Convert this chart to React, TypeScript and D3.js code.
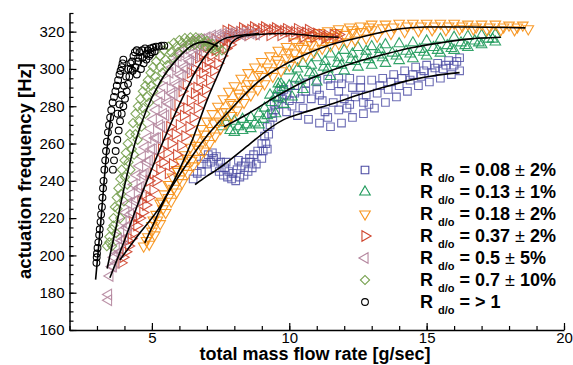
import { useEffect, useRef } from 'react';
import * as d3 from 'd3';

type Pt = [number, number];

// R d/o > 1 (circles)
const circlePts: Pt[] = [
  [2.98, 196], [2.99, 199], [3.0, 201], [3.02, 204], [3.05, 207], [3.08, 211], [3.1, 214], [3.13, 218],
  [3.15, 222], [3.18, 226], [3.2, 231], [3.22, 236], [3.24, 240], [3.27, 246], [3.3, 251], [3.33, 256],
  [3.36, 261], [3.4, 266], [3.44, 270], [3.48, 274], [3.52, 278], [3.57, 282], [3.62, 285], [3.67, 288],
  [3.72, 291], [3.77, 294], [3.82, 297], [3.86, 299], [3.9, 301], [3.93, 303], [3.96, 305],
  [3.58, 246], [3.62, 251], [3.68, 256], [3.74, 262], [3.79, 267], [3.84, 272], [3.9, 276], [3.96, 280],
  [4.02, 284], [4.08, 288], [4.13, 292], [4.18, 296], [4.23, 300], [4.28, 304], [4.33, 307], [4.38, 309],
  [3.75, 276], [3.82, 281], [3.9, 286], [3.98, 291], [4.06, 296], [4.14, 300], [4.22, 303], [4.3, 299],
  [4.4, 301], [4.5, 304], [4.45, 297], [4.6, 300], [4.7, 303], [4.8, 305], [4.9, 307], [5.0, 309],
  [4.45, 310], [4.55, 309], [4.65, 310], [4.75, 311], [4.85, 310], [4.95, 311], [5.05, 311.5], [5.15, 312],
  [5.25, 312], [5.35, 312.5], [5.45, 312.5], [4.5, 306], [4.65, 306], [4.8, 308], [4.95, 308], [5.1, 309.5]
];
const circleFit: Pt[] = [[2.95, 187], [3.05, 203], [3.15, 220], [3.25, 238], [3.35, 255], [3.45, 268], [3.52, 276]];

// R d/o = 0.7 (diamonds)
const diamondPts: Pt[] = [
  [3.36, 205], [3.45, 210], [3.54, 214], [3.6, 220], [3.65, 226], [3.72, 231], [3.78, 236], [3.85, 241],
  [3.9, 246], [4.0, 251], [4.05, 255], [4.12, 260], [4.2, 265], [4.31, 271], [4.4, 276], [4.49, 280],
  [4.58, 284], [4.67, 288], [4.76, 291], [4.85, 294], [4.95, 298], [5.04, 301], [5.15, 304], [5.3, 307],
  [5.45, 310], [5.6, 312], [5.8, 314], [6.0, 315.5], [6.2, 316.5], [6.4, 317], [6.6, 317], [6.8, 316.5],
  [7.0, 315], [7.2, 313.5], [7.4, 312], [7.55, 310],
  [3.55, 205], [3.7, 212], [3.85, 220], [3.98, 229], [4.1, 238], [4.22, 246], [4.35, 254], [4.48, 262],
  [4.62, 269], [4.76, 276], [4.9, 282], [5.05, 288], [5.2, 293], [5.38, 298], [5.56, 302], [5.75, 306],
  [5.95, 309], [6.15, 311], [6.35, 312.5], [6.55, 313], [6.75, 313], [6.95, 312], [7.15, 311], [7.35, 309.5],
  [3.45, 207], [3.6, 216], [3.75, 225], [3.88, 233], [4.02, 242], [4.15, 250], [4.27, 257], [4.4, 265],
  [4.54, 272], [4.68, 279], [4.82, 285], [4.97, 291], [5.12, 296], [5.3, 301], [5.5, 305], [5.7, 309],
  [5.9, 312], [6.1, 314], [6.3, 315], [6.5, 315.5], [6.7, 315.5], [6.9, 314.5], [7.1, 313], [7.3, 311.5]
];
const diamondFit: Pt[] = [[3.37, 193], [3.65, 212], [4.0, 237], [4.38, 260], [4.8, 278], [5.3, 293], [5.9, 305], [6.5, 313], [6.9, 314.5], [7.4, 312]];

// R d/o = 0.5 (left triangles)
const pinkPts: Pt[] = [
  [3.42, 176], [3.42, 179],
  [3.47, 189], [3.55, 194], [3.62, 199], [3.7, 204], [3.78, 209], [3.86, 213], [3.95, 218], [4.05, 223],
  [4.15, 228], [4.25, 233], [4.35, 238], [4.45, 243], [4.55, 248], [4.65, 253], [4.75, 258], [4.85, 263],
  [4.95, 268], [5.05, 273], [5.15, 278], [5.25, 282], [5.35, 286], [5.45, 290], [5.55, 294], [5.65, 298],
  [5.75, 301], [5.85, 304], [5.95, 307], [6.05, 309], [6.15, 311], [6.3, 313], [6.45, 314.5], [6.6, 316],
  [3.7, 196], [3.85, 202], [4.0, 209], [4.15, 216], [4.3, 223], [4.45, 230], [4.6, 237], [4.75, 244],
  [4.9, 251], [5.05, 257], [5.2, 263], [5.35, 269], [5.5, 275], [5.65, 281], [5.8, 286], [5.95, 291],
  [6.1, 296], [6.25, 300], [6.4, 304], [6.55, 307], [6.7, 310], [6.85, 312],
  [3.6, 194], [3.76, 201], [3.92, 208], [4.08, 215], [4.22, 222], [4.38, 229], [4.52, 236], [4.68, 243],
  [4.82, 250], [4.98, 257], [5.12, 263], [5.28, 270], [5.42, 276], [5.58, 282], [5.72, 287], [5.88, 292],
  [6.02, 297], [6.18, 301], [6.34, 305], [6.5, 308.5], [6.66, 312],
  [6.8, 316], [7.0, 317], [7.2, 318], [7.4, 318.5], [7.6, 319], [7.8, 319], [8.0, 319.5], [8.2, 319],
  [8.4, 319.5], [8.6, 319], [8.8, 318.5], [7.1, 315], [7.5, 317], [7.9, 317.5], [8.3, 318]
];
const pinkFit: Pt[] = [[3.47, 188], [4.0, 208], [4.5, 228], [4.93, 244], [5.55, 266], [6.13, 285], [6.64, 300], [7.0, 308], [7.3, 313], [7.6, 316], [8.0, 317.5], [8.5, 318.5], [8.9, 319]];

// R d/o = 0.37 (right triangles)
const redPts: Pt[] = [
  [3.88, 196], [3.95, 199], [4.05, 202], [4.15, 205], [4.25, 209], [4.35, 212], [4.45, 216], [4.55, 220],
  [4.67, 223], [4.78, 227], [4.9, 231], [5.04, 235], [5.15, 240], [5.29, 246], [5.4, 250], [5.55, 255],
  [5.7, 260], [5.85, 265], [6.0, 270], [6.15, 275], [6.27, 279], [6.4, 283], [6.55, 287], [6.64, 290],
  [6.75, 294], [6.85, 298], [6.95, 301], [7.05, 304], [7.15, 307], [7.3, 310], [7.45, 313], [7.6, 315], [7.75, 317],
  [5.6, 244], [5.75, 249], [5.9, 254], [6.05, 259], [6.2, 264], [6.35, 269], [6.5, 274], [6.65, 279],
  [6.8, 284], [6.95, 289], [7.1, 294], [7.25, 299], [7.4, 303], [7.55, 307], [7.7, 311], [7.85, 313], [7.95, 316],
  [4.3, 218], [4.6, 229], [4.9, 240], [5.2, 252], [5.5, 264], [5.8, 276], [6.1, 288], [6.4, 298], [6.7, 306],
  [7.0, 312], [7.3, 316], [7.7, 320.5], [7.9, 321],
  [4.1, 208], [4.45, 221], [4.75, 233], [5.05, 244], [5.35, 257], [5.65, 269], [5.95, 281], [6.25, 292],
  [6.55, 300], [6.85, 308], [7.15, 313],
  [7.8, 318], [8.0, 319], [8.2, 320], [8.4, 320.5], [8.6, 321], [8.8, 321], [9.0, 321.5], [9.2, 321],
  [9.4, 321], [9.6, 320.5], [9.8, 320.5], [10.0, 320], [10.2, 320], [10.4, 319.5], [10.6, 319.5], [10.8, 319],
  [11.0, 319], [11.2, 318.5], [11.4, 318], [11.6, 318.5], [11.8, 318.5], [8.1, 317], [8.5, 318], [8.9, 318.5],
  [9.3, 318], [9.7, 318], [10.1, 317.5], [10.5, 317], [10.9, 317], [11.3, 316.5], [11.7, 316],
  [8.3, 322], [8.7, 322.5], [9.1, 322.5], [9.5, 322], [9.9, 321.5], [10.3, 321.5], [10.7, 321]
];
const redFit: Pt[] = [[3.83, 197.5], [4.56, 212], [5.29, 226], [6.0, 246], [6.5, 263], [7.0, 283], [7.48, 299.6], [7.74, 308.7], [7.9, 314], [8.3, 317.5], [8.9, 318.5], [9.7, 319], [10.5, 318.3], [11.0, 317.5], [11.8, 317]];

// R d/o = 0.18 (down triangles)
const orangePts: Pt[] = [
  [4.7, 205], [4.85, 210], [5.0, 216], [5.15, 222], [5.3, 228], [5.45, 233], [5.6, 238], [5.75, 242],
  [5.9, 246], [6.05, 250], [6.2, 254], [6.4, 258], [6.6, 263], [6.8, 268], [7.0, 272], [7.2, 276],
  [7.4, 280], [7.6, 284], [7.8, 288], [8.0, 291], [8.25, 295], [8.5, 298], [8.75, 301], [9.0, 304],
  [9.3, 307], [9.6, 310], [9.9, 312], [10.2, 314.5], [10.5, 316.5], [10.8, 318], [11.1, 319.5], [11.4, 320.5],
  [11.8, 321.5], [12.2, 322.5], [12.6, 323], [13.0, 324], [13.5, 324], [14.0, 324.5], [14.5, 324.5], [15.0, 324.5],
  [15.5, 324.5], [16.0, 324.5], [16.5, 324], [17.0, 324], [17.5, 324], [18.0, 323.5], [18.5, 323.5],
  [4.9, 206], [5.1, 211], [5.3, 217], [5.5, 223], [5.7, 229], [5.9, 234], [6.1, 239], [6.3, 244],
  [6.5, 248], [6.7, 252], [6.9, 256], [7.1, 260], [7.3, 264], [7.5, 268], [7.7, 271], [7.9, 275],
  [8.1, 278], [8.35, 282], [8.6, 286], [8.85, 289], [9.1, 292], [9.4, 296], [9.7, 299], [10.0, 302],
  [10.3, 305], [10.6, 307], [10.9, 309], [11.2, 311], [11.5, 312.5], [11.8, 313.5], [12.1, 314.5], [12.4, 315.5],
  [12.8, 316.5], [13.2, 317.5], [13.7, 319], [14.2, 320], [14.7, 320.5], [15.2, 321], [15.7, 321], [16.2, 321.5],
  [16.7, 321.5], [17.2, 321], [17.7, 321], [18.2, 321], [18.7, 321.5],
  [4.8, 208], [5.0, 213], [5.2, 219], [5.4, 225], [5.6, 231], [5.8, 236], [6.0, 241], [6.2, 246],
  [6.45, 251], [6.7, 257], [6.95, 262], [7.2, 267], [7.45, 272], [7.7, 277], [7.95, 281], [8.2, 285],
  [8.45, 289], [8.7, 292], [9.0, 296], [9.3, 299], [9.6, 303], [9.9, 306], [10.2, 308.5], [10.5, 311],
  [10.8, 313], [11.1, 315], [11.4, 316.5], [11.7, 317.5], [12.0, 318.5], [12.3, 319.5], [12.6, 320], [13.0, 321],
  [13.4, 322], [13.8, 322.5], [14.3, 323], [14.8, 323], [15.3, 323], [15.8, 323], [16.3, 323], [16.8, 322.5],
  [17.3, 322.5], [17.8, 322.5], [18.3, 322.5],
  [5.05, 219], [5.35, 229], [5.65, 238], [5.95, 245], [6.3, 252], [6.6, 259], [6.9, 265], [7.25, 271],
  [7.55, 277], [7.85, 282], [8.15, 287], [8.5, 292], [8.85, 297], [9.2, 301], [9.55, 305], [9.95, 309],
  [10.35, 312], [10.75, 315], [11.25, 317.5], [11.75, 319.5], [12.3, 321], [12.9, 322.5]
];
const orangeFit: Pt[] = [[4.74, 206.7], [5.0, 215], [5.5, 231], [6.0, 243], [6.5, 254], [7.0, 264], [7.85, 278], [8.94, 294], [9.67, 301], [10.77, 309], [11.5, 313], [12.6, 317], [13.8, 321], [15, 322.5], [16.5, 322.5], [18.6, 322]];

// R d/o = 0.13 (up triangles)
const greenPts: Pt[] = [
  [7.55, 269], [7.7, 271], [7.85, 267], [8.0, 266], [8.15, 269], [8.3, 267], [8.45, 270], [8.6, 268],
  [8.75, 271], [8.9, 270], [9.05, 273], [9.2, 275], [7.7, 274], [8.0, 272], [8.3, 273], [8.6, 274],
  [8.9, 276], [9.1, 279], [9.35, 282], [9.5, 285], [9.6, 289], [9.7, 292],
  [9.3, 286], [9.6, 292], [10.0, 299], [10.5, 303], [11.0, 306], [11.5, 308], [12.0, 310], [12.5, 311.5],
  [13.0, 312], [13.5, 313], [14.0, 313.5], [14.5, 314], [15.0, 315], [15.5, 316], [16.0, 317], [16.5, 317.5],
  [17.0, 318], [17.5, 318.5],
  [9.5, 276], [9.8, 281], [10.1, 285], [10.5, 289], [11.0, 293], [11.5, 296], [12.0, 299], [12.5, 301],
  [13.0, 302], [13.5, 303], [14.0, 304.5], [14.5, 305.5], [15.0, 307], [15.5, 308.5], [16.0, 310], [16.5, 311.5],
  [17.0, 313], [17.5, 314.5],
  [9.8, 290], [10.25, 295], [10.75, 298], [11.25, 301], [11.75, 303], [12.25, 305], [12.75, 306.5], [13.25, 307.5],
  [13.75, 308.5], [14.25, 309.5], [14.75, 310.5], [15.25, 311.5], [15.75, 312.5], [16.25, 314], [16.75, 315], [17.25, 316],
  [9.6, 284], [10.0, 291], [10.4, 294], [10.9, 297], [11.4, 300], [11.9, 302], [12.4, 304], [12.9, 305],
  [13.4, 306], [13.9, 307], [14.4, 308], [14.9, 309], [15.4, 310], [15.9, 311], [16.4, 312.5], [16.9, 314],
  [17.4, 316], [10.3, 300], [10.8, 302], [11.3, 304], [11.8, 306], [12.3, 308], [12.8, 309.5], [13.3, 310.5]
];
const greenFit: Pt[] = [[7.62, 269], [8.5, 276], [9.5, 285], [10.5, 293], [11.5, 299], [12.5, 304], [13.5, 308], [14.5, 311.5], [15.5, 314], [16.5, 316], [17.7, 317]];

// R d/o = 0.08 (squares)
const bluePts: Pt[] = [
  [6.5, 241], [6.65, 244], [6.8, 249], [6.9, 252], [7.05, 254], [7.2, 255], [7.35, 253], [7.5, 250],
  [7.65, 247], [7.8, 245], [7.95, 244], [8.1, 246], [8.25, 248], [8.4, 250], [8.55, 252], [8.7, 254],
  [8.85, 256], [7.0, 249], [7.3, 247], [7.6, 243], [7.9, 241], [8.2, 242], [8.5, 245], [8.8, 249],
  [6.8, 245], [7.15, 250], [7.45, 245], [7.75, 242], [8.05, 240], [8.35, 243], [8.65, 247], [9.0, 252],
  [9.05, 256], [9.15, 260], [9.25, 265], [9.3, 270], [9.4, 274], [9.5, 278], [9.6, 281], [9.75, 284],
  [9.9, 286], [9.0, 260], [9.1, 264], [9.2, 269], [9.35, 276], [9.45, 281], [9.55, 285], [9.7, 288],
  [9.8, 289], [10.2, 291], [10.6, 292.5], [11.0, 294], [11.4, 294.5], [11.8, 295], [12.2, 295], [12.6, 294],
  [13.0, 294], [13.4, 295], [13.8, 297], [14.2, 299], [14.6, 301], [15.0, 302], [15.4, 303], [15.8, 304.5], [16.2, 306],
  [9.9, 277], [10.3, 275], [10.7, 273], [11.1, 271], [11.5, 269], [11.9, 271], [12.3, 274], [12.7, 276],
  [13.1, 279], [13.5, 282], [13.9, 285], [14.3, 288], [14.7, 291], [15.1, 293], [15.5, 295], [15.9, 297], [16.2, 299],
  [10.0, 283], [10.4, 284], [10.8, 284], [11.2, 283], [11.6, 282], [12.0, 284], [12.4, 285], [12.8, 286],
  [13.2, 287], [13.6, 289], [14.0, 291], [14.4, 294], [14.8, 296], [15.2, 298], [15.6, 300], [16.0, 302],
  [10.2, 287], [11.0, 289], [11.8, 288], [12.6, 290], [10.5, 279], [11.3, 277], [12.1, 279], [12.9, 281],
  [10.1, 280], [10.6, 288], [11.1, 286], [11.5, 291], [11.9, 292], [12.3, 290], [12.7, 282], [13.3, 291],
  [13.7, 293], [14.1, 295], [14.5, 297], [14.9, 299], [15.3, 300.5], [15.7, 302], [16.1, 304], [11.4, 274],
  [11.8, 278], [12.2, 281], [7.25, 252], [7.7, 250], [8.15, 251], [8.6, 250], [9.2, 257]
];
const blueFit: Pt[] = [[6.57, 238], [7.0, 242.5], [7.37, 246], [8.3, 256.6], [8.58, 260], [9.78, 272.7], [10.5, 276.5], [11.6, 281.5], [12.5, 286], [13.4, 290], [14.4, 294], [15.3, 296.5], [16.2, 298]];

const xMajor = [5, 10, 15, 20];
const yMajor = [160, 180, 200, 220, 240, 260, 280, 300, 320];
const legendValues = ['0.08', '0.13', '0.18', '0.37', '0.5', '0.7', '> 1'];
const legendTols = ['2%', '1%', '2%', '2%', '5%', '10%', ''];

const FONT = '"Liberation Sans", Arial, Helvetica, sans-serif';

export default function App() {
  const svgRef = useRef<SVGSVGElement>(null);

  useEffect(() => {
    const width = 573;
    const height = 365;
    const svg = d3.select(svgRef.current);
    svg.selectAll('*').remove();
    svg.attr('width', width).attr('height', height);

    const x = d3.scaleLinear().domain([2, 20]).range([69.5, 564]);
    const y = d3.scaleLinear().domain([160, 330]).range([330, 13]);

    const series = [
      { pts: bluePts, fit: blueFit, color: '#4a4aa2', type: d3.symbolSquare, size: 58, rot: 0, op: 0.8 },
      { pts: greenPts, fit: greenFit, color: '#1e9a5a', type: d3.symbolTriangle, size: 48, rot: 0, op: 0.9 },
      { pts: orangePts, fit: orangeFit, color: '#f8951d', type: d3.symbolTriangle, size: 48, rot: 180, op: 0.95 },
      { pts: redPts, fit: redFit, color: '#cf432b', type: d3.symbolTriangle, size: 48, rot: 90, op: 0.9 },
      { pts: pinkPts, fit: pinkFit, color: '#b5879f', type: d3.symbolTriangle, size: 48, rot: -90, op: 0.9 },
      { pts: diamondPts, fit: diamondFit, color: '#76a04e', type: d3.symbolSquare, size: 42, rot: 45, op: 0.9 },
      { pts: circlePts, fit: circleFit, color: '#000000', type: d3.symbolCircle, size: 36, rot: 0, op: 1 }
    ];

    const plot = svg.append('g');
    series.forEach(s => {
      const path = d3.symbol().type(s.type).size(s.size)();
      plot.append('g')
        .selectAll('path')
        .data(s.pts)
        .enter().append('path')
        .attr('d', path)
        .attr('transform', d => `translate(${x(d[0])},${y(d[1])}) rotate(${s.rot})`)
        .attr('fill', 'none')
        .attr('stroke', s.color)
        .attr('stroke-opacity', s.op)
        .attr('stroke-width', 1.1);
    });

    // fit curves
    const line = d3.line<Pt>().x(d => x(d[0])).y(d => y(d[1])).curve(d3.curveMonotoneX);
    series.forEach(s => {
      plot.append('path')
        .attr('d', line(s.fit))
        .attr('fill', 'none')
        .attr('stroke', '#000')
        .attr('stroke-width', 1.6);
    });

    // axes
    const yMinor = d3.range(160, 331, 5);
    const xMinor = d3.range(2, 20.01, 1);

    const yAxis = svg.append('g').attr('transform', `translate(${x(2)},0)`);
    yAxis.call(d3.axisLeft(y).tickValues(yMinor).tickSize(-4).tickSizeOuter(0).tickFormat(() => ''));
    yAxis.call(g => g.selectAll('.domain').remove());
    const yMaj = svg.append('g').attr('transform', `translate(${x(2)},0)`);
    yMaj.call(d3.axisLeft(y).tickValues(yMajor).tickSize(-7).tickSizeOuter(0).tickPadding(5));

    const xAxis = svg.append('g').attr('transform', `translate(0,${y(160)})`);
    xAxis.call(d3.axisBottom(x).tickValues(xMinor).tickSize(-4).tickSizeOuter(0).tickFormat(() => ''));
    xAxis.call(g => g.selectAll('.domain').remove());
    const xMaj = svg.append('g').attr('transform', `translate(0,${y(160)})`);
    xMaj.call(d3.axisBottom(x).tickValues(xMajor).tickSize(-7).tickSizeOuter(0).tickPadding(2));

    svg.selectAll('.domain').attr('stroke', '#000').attr('stroke-width', 1.5);
    svg.selectAll('.tick line').attr('stroke', '#000').attr('stroke-width', 1.2);
    svg.selectAll('.tick text')
      .attr('font-family', FONT)
      .attr('font-size', 15)
      .attr('fill', '#000');

    // axis titles
    svg.append('text')
      .attr('x', 315).attr('y', 360)
      .attr('text-anchor', 'middle')
      .attr('font-family', FONT).attr('font-size', 18).attr('font-weight', 'bold')
      .text('total mass flow rate [g/sec]');
    svg.append('text')
      .attr('transform', 'translate(31,171) rotate(-90)')
      .attr('text-anchor', 'middle')
      .attr('font-family', FONT).attr('font-size', 18.5).attr('font-weight', 'bold')
      .text('actuation frequency [Hz]');

    // legend
    const leg = svg.append('g');
    series.forEach((s, i) => {
      const cy = 170 + i * 22;
      leg.append('path')
        .attr('d', d3.symbol().type(s.type).size(s.size)())
        .attr('transform', `translate(365,${cy}) rotate(${s.rot})`)
        .attr('fill', 'none')
        .attr('stroke', s.color)
        .attr('stroke-width', 1.1);
      const t = leg.append('text')
        .attr('x', 420).attr('y', cy + 6)
        .attr('font-family', FONT).attr('font-size', 18).attr('font-weight', 'bold');
      t.append('tspan').text('R ');
      t.append('tspan').attr('font-size', 11).attr('dy', 6).text('d/o');
      const tol = legendTols[i];
      t.append('tspan').attr('dy', -6).text(` = ${legendValues[i]}${tol ? ' ' : ''}`);
      if (tol) {
        t.append('tspan').attr('font-weight', 'normal').text('±');
        t.append('tspan').text(` ${tol}`);
      }
    });
  }, []);

  return (
    <div style={{ position: 'absolute', left: 0, top: 0 }}>
      <svg ref={svgRef}></svg>
    </div>
  );
}
